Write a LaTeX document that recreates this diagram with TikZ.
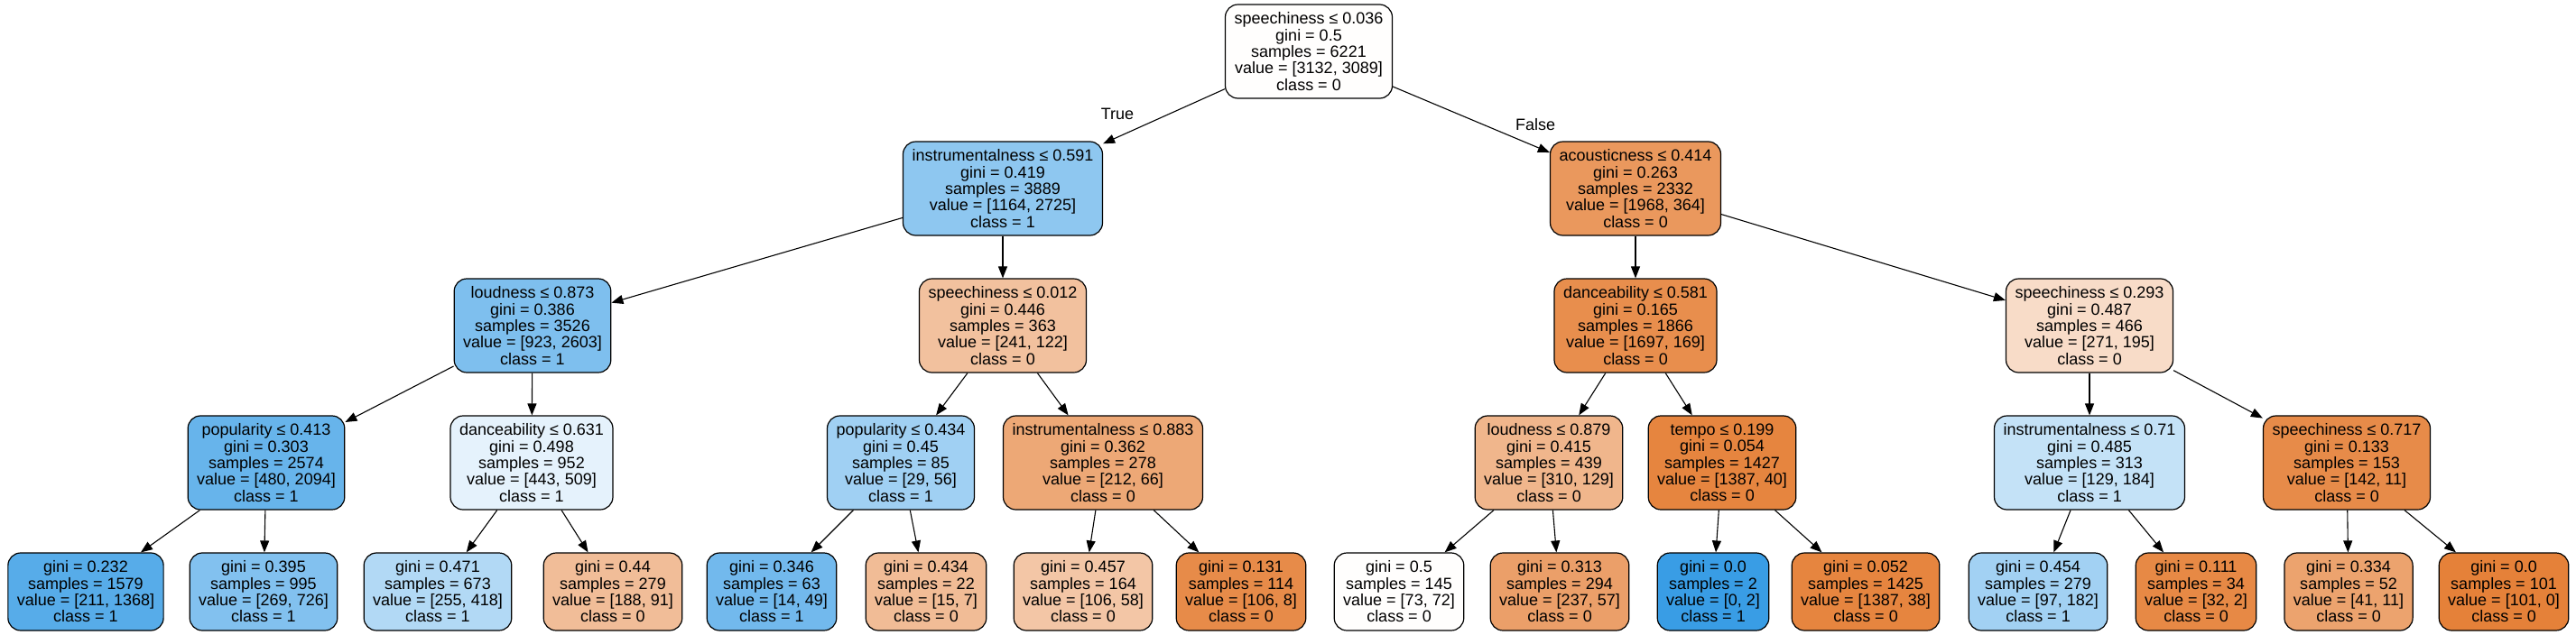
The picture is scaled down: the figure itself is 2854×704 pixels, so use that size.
\documentclass[tikz,border=0pt]{standalone}
\usepackage{fontspec}
\setmainfont{Liberation Sans}
\usetikzlibrary{arrows.meta}
\definecolor{cls0}{HTML}{E58139}
\definecolor{cls1}{HTML}{399DE5}

\begin{document}
\begin{tikzpicture}[
  x=1pt, y=-1pt,
  font=\fontsize{18}{18.3}\selectfont,
  split/.style={draw, rounded corners=14pt, align=center, line width=1.2pt,
                inner xsep=10pt, inner ysep=0pt, minimum height=104pt},
  leaf/.style={split, minimum height=86pt},
  ar/.style={-{Triangle[length=13pt,width=10pt]}, line width=1.1pt}
]
\useasboundingbox (0,0) rectangle (2854,704);

% level 0 and 1
\node[split, fill=cls0!1] (root) at (1450,57)
  {speechiness ≤ 0.036\\gini = 0.5\\samples = 6221\\value = [3132, 3089]\\class = 0};
\node[split, fill=cls1!57] (ins591) at (1111,209)
  {instrumentalness ≤ 0.591\\gini = 0.419\\samples = 3889\\value = [1164, 2725]\\class = 1};
\node[split, fill=cls0!82] (aco414) at (1812,209)
  {acousticness ≤ 0.414\\gini = 0.263\\samples = 2332\\value = [1968, 364]\\class = 0};

% level 2
\node[split, fill=cls1!65] (lou873) at (590,361)
  {loudness ≤ 0.873\\gini = 0.386\\samples = 3526\\value = [923, 2603]\\class = 1};
\node[split, fill=cls0!49] (spe012) at (1111,361)
  {speechiness ≤ 0.012\\gini = 0.446\\samples = 363\\value = [241, 122]\\class = 0};
\node[split, fill=cls0!90] (dan581) at (1812,361)
  {danceability ≤ 0.581\\gini = 0.165\\samples = 1866\\value = [1697, 169]\\class = 0};
\node[split, fill=cls0!28] (spe293) at (2315,361)
  {speechiness ≤ 0.293\\gini = 0.487\\samples = 466\\value = [271, 195]\\class = 0};

% level 3
\node[split, fill=cls1!77] (pop413) at (295,513)
  {popularity ≤ 0.413\\gini = 0.303\\samples = 2574\\value = [480, 2094]\\class = 1};
\node[split, fill=cls1!13] (dan631) at (589,513)
  {danceability ≤ 0.631\\gini = 0.498\\samples = 952\\value = [443, 509]\\class = 1};
\node[split, fill=cls1!48] (pop434) at (998,513)
  {popularity ≤ 0.434\\gini = 0.45\\samples = 85\\value = [29, 56]\\class = 1};
\node[split, fill=cls0!69] (ins883) at (1222,513)
  {instrumentalness ≤ 0.883\\gini = 0.362\\samples = 278\\value = [212, 66]\\class = 0};
\node[split, fill=cls0!58] (lou879) at (1716,513)
  {loudness ≤ 0.879\\gini = 0.415\\samples = 439\\value = [310, 129]\\class = 0};
\node[split, fill=cls0!97] (tem199) at (1908,513)
  {tempo ≤ 0.199\\gini = 0.054\\samples = 1427\\value = [1387, 40]\\class = 0};
\node[split, fill=cls1!30] (ins710) at (2315,513)
  {instrumentalness ≤ 0.71\\gini = 0.485\\samples = 313\\value = [129, 184]\\class = 1};
\node[split, fill=cls0!92] (spe717) at (2600,513)
  {speechiness ≤ 0.717\\gini = 0.133\\samples = 153\\value = [142, 11]\\class = 0};

% leaves
\node[leaf, fill=cls1!85] (lf1) at (95,656)
  {gini = 0.232\\samples = 1579\\value = [211, 1368]\\class = 1};
\node[leaf, fill=cls1!63] (lf2) at (292,656)
  {gini = 0.395\\samples = 995\\value = [269, 726]\\class = 1};
\node[leaf, fill=cls1!39] (lf3) at (485,656)
  {gini = 0.471\\samples = 673\\value = [255, 418]\\class = 1};
\node[leaf, fill=cls0!52] (lf4) at (679,656)
  {gini = 0.44\\samples = 279\\value = [188, 91]\\class = 0};
\node[leaf, fill=cls1!71] (lf5) at (855,656)
  {gini = 0.346\\samples = 63\\value = [14, 49]\\class = 1};
\node[leaf, fill=cls0!53] (lf6) at (1026,656)
  {gini = 0.434\\samples = 22\\value = [15, 7]\\class = 0};
\node[leaf, fill=cls0!45] (lf7) at (1200,656)
  {gini = 0.457\\samples = 164\\value = [106, 58]\\class = 0};
\node[leaf, fill=cls0!92] (lf8) at (1375,656)
  {gini = 0.131\\samples = 114\\value = [106, 8]\\class = 0};
\node[leaf, fill=cls0!1] (lf9) at (1550,656)
  {gini = 0.5\\samples = 145\\value = [73, 72]\\class = 0};
\node[leaf, fill=cls0!76] (lf10) at (1728,656)
  {gini = 0.313\\samples = 294\\value = [237, 57]\\class = 0};
\node[leaf, fill=cls1] (lf11) at (1898,656)
  {gini = 0.0\\samples = 2\\value = [0, 2]\\class = 1};
\node[leaf, fill=cls0!97] (lf12) at (2067,656)
  {gini = 0.052\\samples = 1425\\value = [1387, 38]\\class = 0};
\node[leaf, fill=cls1!47] (lf13) at (2258,656)
  {gini = 0.454\\samples = 279\\value = [97, 182]\\class = 1};
\node[leaf, fill=cls0!94] (lf14) at (2433,656)
  {gini = 0.111\\samples = 34\\value = [32, 2]\\class = 0};
\node[leaf, fill=cls0!73] (lf15) at (2602,656)
  {gini = 0.334\\samples = 52\\value = [41, 11]\\class = 0};
\node[leaf, fill=cls0] (lf16) at (2774,656)
  {gini = 0.0\\samples = 101\\value = [101, 0]\\class = 0};

% edges
\draw[ar] (root) -- (ins591);
\draw[ar] (root) -- (aco414);
\node (lbltrue) at (1238,126) {True};
\node (lblfalse) at (1701,138) {False};
\draw[ar] (ins591) -- (lou873);
\draw[ar] (ins591) -- (spe012);
\draw[ar] (aco414) -- (dan581);
\draw[ar] (aco414) -- (spe293);
\draw[ar] (lou873) -- (pop413);
\draw[ar] (lou873) -- (dan631);
\draw[ar] (spe012) -- (pop434);
\draw[ar] (spe012) -- (ins883);
\draw[ar] (dan581) -- (lou879);
\draw[ar] (dan581) -- (tem199);
\draw[ar] (spe293) -- (ins710);
\draw[ar] (spe293) -- (spe717);
\draw[ar] (pop413) -- (lf1);
\draw[ar] (pop413) -- (lf2);
\draw[ar] (dan631) -- (lf3);
\draw[ar] (dan631) -- (lf4);
\draw[ar] (pop434) -- (lf5);
\draw[ar] (pop434) -- (lf6);
\draw[ar] (ins883) -- (lf7);
\draw[ar] (ins883) -- (lf8);
\draw[ar] (lou879) -- (lf9);
\draw[ar] (lou879) -- (lf10);
\draw[ar] (tem199) -- (lf11);
\draw[ar] (tem199) -- (lf12);
\draw[ar] (ins710) -- (lf13);
\draw[ar] (ins710) -- (lf14);
\draw[ar] (spe717) -- (lf15);
\draw[ar] (spe717) -- (lf16);
\end{tikzpicture}
\end{document}
